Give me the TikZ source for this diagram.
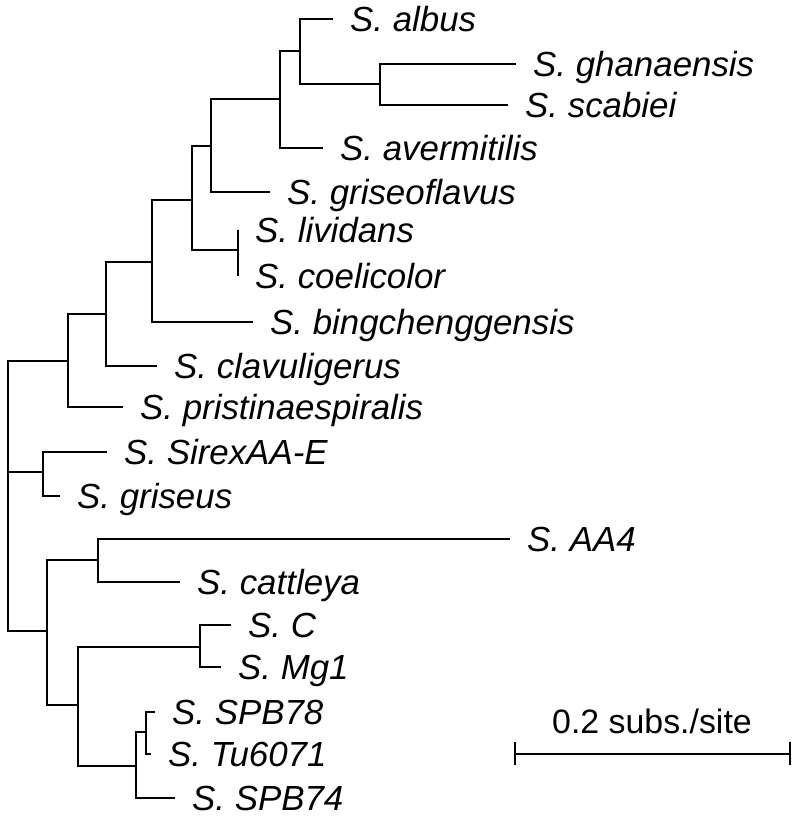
\documentclass[tikz,border=0pt]{standalone}
\usepackage{fontspec}
\setmainfont{Liberation Sans}
\begin{document}
\begin{tikzpicture}[x=1bp,y=-1bp,
  br/.style={line width=1.5bp},
  lab/.style={anchor=base west,inner sep=0pt,font=\fontsize{35}{40}\selectfont\itshape,xshift=17bp,yshift=-12.5bp}]
\useasboundingbox (0,0) rectangle (800,824);
% internal nodes
\coordinate (root) at (8,472);
\coordinate (nG) at (68,361);
\coordinate (nF) at (106,314);
\coordinate (nE) at (152,262);
\coordinate (nD) at (192,200);
\coordinate (nC) at (211,146);
\coordinate (nB) at (280,99);
\coordinate (nal) at (300,51);
\coordinate (ngs) at (380,84);
\coordinate (nlc) at (238,250);
\coordinate (nS) at (43,472);
\coordinate (nH) at (47,631);
\coordinate (nAC) at (98,560);
\coordinate (nI) at (78,705);
\coordinate (nCM) at (200,647);
\coordinate (nSP) at (136,766);
\coordinate (nST) at (146,732);
% tips
\coordinate (albus) at (333,19);
\coordinate (gha) at (516,64);
\coordinate (sca) at (508,105);
\coordinate (ave) at (323,148);
\coordinate (grf) at (270,192);
\coordinate (liv) at (238,230);
\coordinate (coe) at (238,276);
\coordinate (bin) at (253,322);
\coordinate (cla) at (157,366);
\coordinate (pri) at (123,407);
\coordinate (sir) at (107,452);
\coordinate (gri) at (60,496);
\coordinate (aa4) at (510,539);
\coordinate (cat) at (180,582);
\coordinate (sc) at (231,625);
\coordinate (mg1) at (221,667);
\coordinate (s78) at (155,712);
\coordinate (tu) at (151,754);
\coordinate (s74) at (175,798);
% branches
\foreach \p/\c in {root/nG,root/nS,root/nH,nG/nF,nG/pri,nF/nE,nF/cla,nE/nD,nE/bin,
  nD/nC,nD/nlc,nC/nB,nC/grf,nB/nal,nB/ave,nal/albus,nal/ngs,ngs/gha,ngs/sca,
  nlc/liv,nlc/coe,nS/sir,nS/gri,nH/nAC,nH/nI,nAC/aa4,nAC/cat,nI/nCM,nI/nSP,
  nCM/sc,nCM/mg1,nSP/nST,nSP/s74,nST/s78,nST/tu}
  \draw[br] (\p) |- (\c);
% labels
\node[lab] (Lalbus) at (albus) {S. albus};
\node[lab] (Lgha) at (gha) {S. ghanaensis};
\node[lab] (Lsca) at (sca) {S. scabiei};
\node[lab] (Lave) at (ave) {S. avermitilis};
\node[lab] (Lgrf) at (grf) {S. griseoflavus};
\node[lab] (Lliv) at (liv) {S. lividans};
\node[lab] (Lcoe) at (coe) {S. coelicolor};
\node[lab] (Lbin) at (bin) {S. bingchenggensis};
\node[lab] (Lcla) at (cla) {S. clavuligerus};
\node[lab] (Lpri) at (pri) {S. pristinaespiralis};
\node[lab] (Lsir) at (sir) {S. SirexAA-E};
\node[lab] (Lgri) at (gri) {S. griseus};
\node[lab] (Laa4) at (aa4) {S. AA4};
\node[lab] (Lcat) at (cat) {S. cattleya};
\node[lab] (Lsc) at (sc) {S. C};
\node[lab] (Lmg1) at (mg1) {S. Mg1};
\node[lab] (Ls78) at (s78) {S. SPB78};
\node[lab] (Ltu) at (tu) {S. Tu6071};
\node[lab] (Ls74) at (s74) {S. SPB74};
% scale bar
\coordinate (sb1) at (515,754);
\coordinate (sb2) at (790,754);
\draw[line width=2bp] (sb1) -- (sb2);
\draw[line width=2bp] ([yshift=-11bp]sb1) -- ([yshift=12bp]sb1);
\draw[line width=2bp] ([yshift=-11bp]sb2) -- ([yshift=12bp]sb2);
\node[anchor=base,inner sep=0pt,font=\fontsize{34}{40}\selectfont] (sbl) at (652,733) {0.2 subs./site};
\end{tikzpicture}
\end{document}
